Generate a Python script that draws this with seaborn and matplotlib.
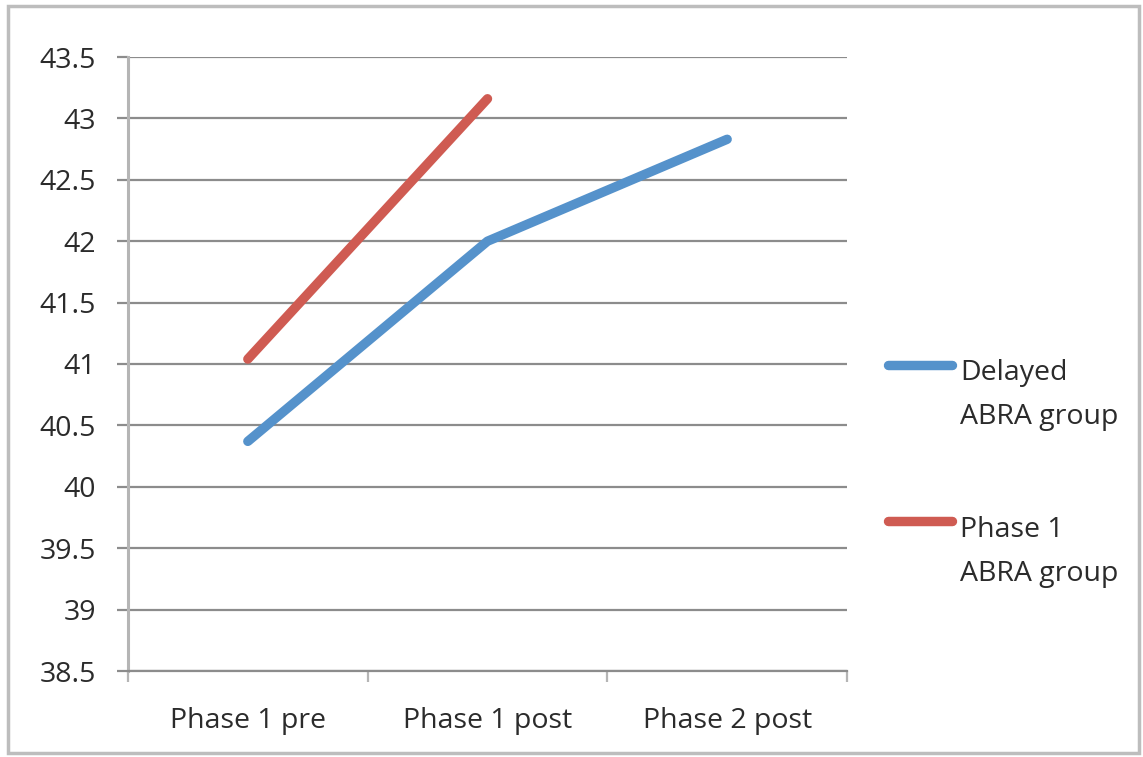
import numpy as np
import pandas as pd
import matplotlib
matplotlib.use("Agg")
import matplotlib.pyplot as plt
from matplotlib.patches import Rectangle
import seaborn as sns

# Data
phases = ["Phase 1 pre", "Phase 1 post", "Phase 2 post"]
delayed_group = [40.37, 42.0, 42.83]
phase1_group = [41.04, 43.16]
series_names = ["Delayed\nABRA group", "Phase 1\nABRA group"]
y_ticks = [38.5, 39, 39.5, 40, 40.5, 41, 41.5, 42, 42.5, 43, 43.5]

df = pd.concat([
    pd.DataFrame({"phase": phases, "score": delayed_group, "group": series_names[0]}),
    pd.DataFrame({"phase": phases[:len(phase1_group)], "score": phase1_group, "group": series_names[1]}),
], ignore_index=True)
df["pos"] = df["phase"].map({p: i for i, p in enumerate(phases)})

sns.set_theme(style="white")
plt.rcParams["font.family"] = ["Open Sans", "DejaVu Sans"]

W, H = 1143, 757
FS = 20.5
TEXT = "#2b2b2b"
fig = plt.figure(figsize=(W / 100, H / 100), dpi=100)
ax = fig.add_axes([128 / W, 1 - 671 / H, (847 - 128) / W, (671 - 57) / H])

palette = {series_names[0]: "#5592CB", series_names[1]: "#CF5B52"}
sns.lineplot(data=df, x="pos", y="score", hue="group", hue_order=series_names,
             palette=palette, linewidth=6.8, sort=False, ax=ax,
             solid_capstyle="round", solid_joinstyle="round", legend=False)

ax.set_xlim(-0.5, 2.5)
ax.set_ylim(38.5, 43.5)
ax.set_yticks(y_ticks)
ax.set_yticklabels([f"{t:g}" for t in y_ticks])
ax.set_xticks([-0.5, 0.5, 1.5, 2.5])
ax.set_xticklabels([])
ax.set_xticks([0, 1, 2], minor=True)
ax.set_xticklabels(phases, minor=True)
ax.set_xlabel("")
ax.set_ylabel("")

grid_color = "#8c8c8c"
ax.yaxis.grid(True, color=grid_color, linewidth=1.6)
ax.xaxis.grid(False)
for side in ["top", "right"]:
    ax.spines[side].set_visible(False)
ax.spines["left"].set_color("#b5b5b5")
ax.spines["left"].set_linewidth(2.2)
ax.spines["bottom"].set_color(grid_color)
ax.spines["bottom"].set_linewidth(1.6)

ax.tick_params(axis="y", which="major", length=8, width=1.6, color=grid_color,
               labelsize=FS, labelcolor=TEXT, pad=15, left=True)
ax.tick_params(axis="x", which="major", length=8, width=1.6, color="#b5b5b5",
               direction="out", bottom=True)
ax.tick_params(axis="x", which="minor", length=0, labelsize=FS,
               labelcolor=TEXT, pad=26)

# Legend: line sample plus two lines of text per series
legend_rows = [(365, 380), (521, 537)]
for name, (ypix, base) in zip(series_names, legend_rows):
    yf = 1 - ypix / H
    fig.add_artist(plt.Line2D([888 / W, 952 / W], [yf, yf], color=palette[name],
                              linewidth=6.8, solid_capstyle="round",
                              transform=fig.transFigure))
    for k, part in enumerate(name.split("\n")):
        fig.text(960 / W, 1 - (base + 44 * k) / H, part, fontsize=FS, color=TEXT,
                 va="baseline", ha="left")

# Outer frame
fig.add_artist(Rectangle((8 / W, 4 / H), (1139 - 8) / W, (751 - 4) / H,
                         transform=fig.transFigure, fill=False,
                         edgecolor="#bdbdbd", linewidth=2.5))

fig.savefig("out.png", dpi=100)
